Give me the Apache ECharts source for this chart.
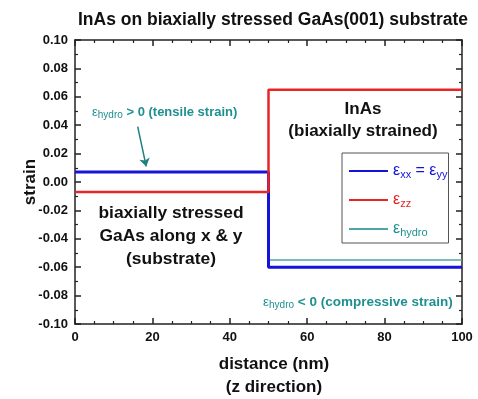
<!DOCTYPE html>
<html>
<head>
<meta charset="utf-8">
<script src="https://cdn.jsdelivr.net/npm/echarts@6/dist/echarts.min.js"></script>
<style>
html, body { margin: 0; padding: 0; background: #fff; }
#main { width: 478px; height: 399px; }
</style>
</head>
<body>
<div id="main"></div>
<script>
// strain profiles along z (step at the interface, 50 nm)
var distance = [0, 50, 50, 100]
var exxEyy = [0.007, 0.007, -0.06, -0.06]
var ezz = [-0.007, -0.007, 0.065, 0.065]
var eHydro = [0.007, 0.007, -0.055, -0.055]
// arrow of the "tensile strain" note, in data coords
var arrowFrom = [16.2, 0.039]
var arrowTo = [18.4, 0.011]

var BLUE = '#1414d8'
var RED = '#e82424'
var TEAL_LINE = '#4fa6a6'
var TEAL_TEXT = '#1f9090'
var FONT = '"Liberation Sans", Arial, sans-serif'

function pairs (xs, ys) {
  return xs.map(function (x, i) { return [x, ys[i]] })
}

var legendNames = {
  exx: '{eb|ε}{sb|xx}{eb| = ε}{sb|yy}',
  ezz: '{er|ε}{sr|zz}',
  hydro: '{et|ε}{st|hydro}'
}

function subStyle (color) {
  return { color: color, fontSize: 11, fontFamily: FONT, lineHeight: 12, padding: [7, 0, 0, 0] }
}
function epsStyle (color) {
  return { color: color, fontSize: 16, fontFamily: FONT, lineHeight: 19 }
}

var axisLineStyle = { color: '#222', width: 1.5 }
var minorStyle = { color: '#222', width: 1.2 }

function noteRich (size) {
  return {
    e: { fill: TEAL_TEXT, fontSize: size, fontFamily: FONT, lineHeight: 16 },
    s: { fill: TEAL_TEXT, fontSize: 10, fontFamily: FONT, lineHeight: 11, padding: [6, 0, 0, 0] },
    b: { fill: TEAL_TEXT, fontSize: size, fontWeight: 'bold', fontFamily: FONT, lineHeight: 16 }
  }
}

var myChart = echarts.init(document.getElementById('main'))
myChart.setOption({
  animation: false,
  backgroundColor: '#fff',
  title: {
    text: 'InAs on biaxially stressed GaAs(001) substrate',
    left: 268,
    top: 6,
    textAlign: 'center',
    textStyle: { fontFamily: FONT, fontSize: 17.5, fontWeight: 'bold', color: '#111' }
  },
  grid: { left: 75, right: 16, top: 40, bottom: 75, outerBoundsMode: 'none' },
  legend: {
    orient: 'vertical',
    left: 342,
    top: 153,
    padding: [9, 1, 5, 6],
    itemWidth: 39,
    itemHeight: 12,
    itemGap: 11,
    borderColor: '#555',
    borderWidth: 1,
    itemStyle: { opacity: 0 },
    data: ['exx', 'ezz', 'hydro'],
    formatter: function (name) { return legendNames[name] },
    textStyle: {
      rich: {
        eb: epsStyle(BLUE), sb: subStyle(BLUE),
        er: epsStyle(RED), sr: subStyle(RED),
        et: epsStyle(TEAL_TEXT), st: subStyle(TEAL_TEXT)
      }
    }
  },
  xAxis: [
    {
      type: 'value',
      min: 0,
      max: 100,
      interval: 20,
      position: 'bottom',
      name: 'distance (nm)\n(z direction)',
      nameLocation: 'middle',
      nameGap: 29,
      nameMoveOverlap: false,
      nameTextStyle: { fontFamily: FONT, fontSize: 17, fontWeight: 'bold', color: '#111', lineHeight: 23, padding: [0, 0, 0, 11] },
      axisLine: { show: true, onZero: false, lineStyle: axisLineStyle },
      axisTick: { show: true, inside: true, length: 6, lineStyle: axisLineStyle },
      minorTick: { show: true, splitNumber: 4, length: 3, lineStyle: minorStyle },
      axisLabel: { margin: 7, fontFamily: FONT, fontSize: 13, fontWeight: 'bold', color: '#111' },
      splitLine: { show: false }
    },
    {
      type: 'value',
      min: 0,
      max: 100,
      interval: 20,
      position: 'top',
      axisLine: { show: true, onZero: false, lineStyle: axisLineStyle },
      axisTick: { show: true, inside: true, length: 6, lineStyle: axisLineStyle },
      minorTick: { show: true, splitNumber: 4, length: 3, lineStyle: minorStyle },
      axisLabel: { show: false },
      splitLine: { show: false }
    }
  ],
  yAxis: [
    {
      type: 'value',
      min: -0.1,
      max: 0.1,
      interval: 0.02,
      position: 'left',
      name: 'strain',
      nameLocation: 'middle',
      nameRotate: 90,
      nameGap: 36,
      nameMoveOverlap: false,
      nameTextStyle: { fontFamily: FONT, fontSize: 17, fontWeight: 'bold', color: '#111' },
      axisLine: { show: true, onZero: false, lineStyle: axisLineStyle },
      axisTick: { show: true, inside: true, length: 6, lineStyle: axisLineStyle },
      minorTick: { show: true, splitNumber: 2, length: 3, lineStyle: minorStyle },
      axisLabel: {
        margin: 7,
        fontFamily: FONT,
        fontSize: 13,
        fontWeight: 'bold',
        color: '#111',
        formatter: function (v) { return v.toFixed(2) }
      },
      splitLine: { show: false }
    },
    {
      type: 'value',
      min: -0.1,
      max: 0.1,
      interval: 0.02,
      position: 'right',
      axisLine: { show: true, onZero: false, lineStyle: axisLineStyle },
      axisTick: { show: true, inside: true, length: 6, lineStyle: axisLineStyle },
      minorTick: { show: true, splitNumber: 2, length: 3, lineStyle: minorStyle },
      axisLabel: { show: false },
      splitLine: { show: false }
    }
  ],
  graphic: [
    {
      type: 'text',
      x: 363,
      y: 120,
      style: {
        text: 'InAs\n(biaxially strained)',
        align: 'center',
        verticalAlign: 'middle',
        lineHeight: 22,
        font: 'bold 17px ' + FONT,
        fill: '#111'
      }
    },
    {
      type: 'text',
      x: 171,
      y: 236,
      style: {
        text: 'biaxially stressed\nGaAs along x & y\n(substrate)',
        align: 'center',
        verticalAlign: 'middle',
        lineHeight: 23,
        font: 'bold 17.4px ' + FONT,
        fill: '#111'
      }
    },
    {
      type: 'text',
      x: 92,
      y: 112,
      style: {
        text: '{e|ε}{s|hydro}{b| > 0 (tensile strain)}',
        verticalAlign: 'middle',
        rich: noteRich(13)
      }
    },
    {
      type: 'text',
      x: 263,
      y: 302,
      style: {
        text: '{e|ε}{s|hydro}{b| < 0 (compressive strain)}',
        verticalAlign: 'middle',
        rich: noteRich(13.5)
      }
    }
  ],
  series: [
    {
      name: 'exx',
      type: 'line',
      data: pairs(distance, exxEyy),
      symbol: 'none',
      z: 3,
      lineStyle: { color: BLUE, width: 3 },
      itemStyle: { color: BLUE }
    },
    {
      name: 'ezz',
      type: 'line',
      data: pairs(distance, ezz),
      symbol: 'none',
      z: 4,
      lineStyle: { color: RED, width: 2.5 },
      itemStyle: { color: RED }
    },
    {
      name: 'hydro',
      type: 'line',
      data: pairs(distance, eHydro),
      symbol: 'none',
      z: 2,
      lineStyle: { color: TEAL_LINE, width: 1.5 },
      itemStyle: { color: TEAL_LINE },
      markLine: {
        silent: true,
        symbol: ['none', 'arrow'],
        symbolSize: 8,
        label: { show: false },
        lineStyle: { color: '#1f8080', width: 1.5, type: 'solid' },
        data: [[{ coord: arrowFrom }, { coord: arrowTo }]]
      }
    }
  ]
})
</script>
</body>
</html>
